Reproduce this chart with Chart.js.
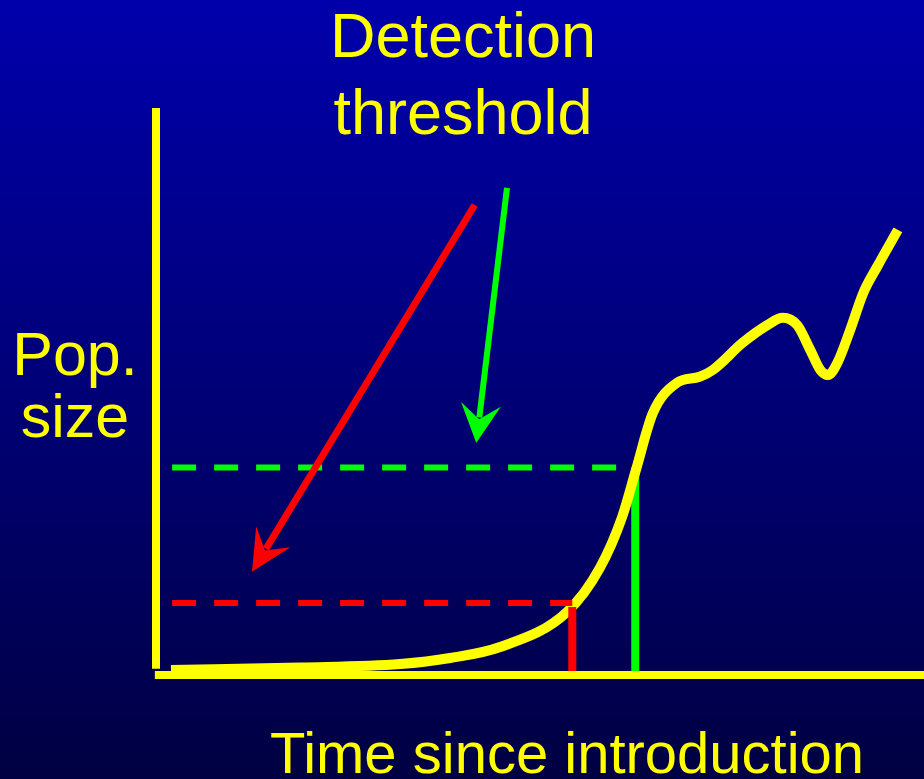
<!DOCTYPE html>
<html>
<head>
<meta charset="utf-8">
<script src="https://cdn.jsdelivr.net/npm/chart.js@4"></script>
<style>
  html, body { margin: 0; padding: 0; }
  body { width: 924px; height: 779px; background: linear-gradient(to bottom, #0000ab 0%, #000042 100%); overflow: hidden; }
  #c { display: block; }
</style>
</head>
<body>
<canvas id="c" width="924" height="779"></canvas>
<script>
// ---- data (arbitrary units: time 0-100, population 0-100) ----
const curveTime = [1.95, 18.8, 31.8, 38.3, 44.8, 53.5, 57.8, 60.7, 62.5, 64.7, 67.8, 70.8, 72.5, 76.4, 79.6, 81.6, 83.5, 85.2, 86.5, 87.5, 88.7, 90.4, 92.1, 93.9, 96.6];
const curvePop  = [0.88, 1.32, 1.94, 3.0, 4.94, 11.1, 18.9, 27.9, 36.2, 46.2, 51.5, 52.6, 53.8, 58.6, 61.7, 63.0, 61.7, 57.3, 53.8, 52.9, 55.0, 60.9, 67.4, 72.0, 78.5];

const redThreshold = 12.7;     // lower detection threshold (pop. size)
const redDetectTime = 54.2;    // time when lower threshold reached
const greenThreshold = 36.6;   // higher detection threshold
const greenDetectTime = 62.4;  // time when higher threshold reached
const thresholdStart = 2.1;

const redArrow = [[41.5, 82.9], [12.5, 18.2]];
const greenArrow = [[45.7, 85.9], [41.7, 40.9]];

const titleLines = ['Detection', 'threshold'];
const yLabelLines = ['Pop.', 'size'];
const xLabel = 'Time since introduction';

// ---- build ----
const YELLOW = '#ffff00', RED = '#ff0000', GREEN = '#00ff00';
const curveData = curveTime.map((t, i) => ({ x: t, y: curvePop[i] }));

const textPlugin = {
  id: 'labels',
  afterDraw(chart) {
    const ctx = chart.ctx;
    ctx.save();
    ctx.fillStyle = YELLOW;
    ctx.textAlign = 'center';
    ctx.textBaseline = 'alphabetic';
    ctx.font = '63px "Liberation Sans", Arial, sans-serif';
    ctx.fillText(titleLines[0], 463, 57);
    ctx.fillText(titleLines[1], 463, 134);
    ctx.font = '61px "Liberation Sans", Arial, sans-serif';
    ctx.fillText(yLabelLines[0], 75, 375);
    ctx.fillText(yLabelLines[1], 75, 437);
    ctx.font = '58px "Liberation Sans", Arial, sans-serif';
    ctx.fillText(xLabel, 567, 773);
    ctx.restore();
  }
};

const arrowPlugin = {
  id: 'arrows',
  afterDatasetsDraw(chart) {
    const ctx = chart.ctx, xs = chart.scales.x, ys = chart.scales.y;
    const draw = (pts, color, w, len, half, notch) => {
      const x0 = xs.getPixelForValue(pts[0][0]), y0 = ys.getPixelForValue(pts[0][1]);
      const x1 = xs.getPixelForValue(pts[1][0]), y1 = ys.getPixelForValue(pts[1][1]);
      const L = Math.hypot(x1 - x0, y1 - y0);
      const ux = (x1 - x0) / L, uy = (y1 - y0) / L;
      const px = -uy, py = ux;
      ctx.save();
      ctx.strokeStyle = color; ctx.fillStyle = color;
      ctx.lineWidth = w; ctx.lineCap = 'butt';
      ctx.beginPath();
      ctx.moveTo(x0, y0);
      ctx.lineTo(x1 - ux * (notch + 2), y1 - uy * (notch + 2));
      ctx.stroke();
      ctx.beginPath();
      ctx.moveTo(x1, y1);
      ctx.lineTo(x1 - ux * len + px * half, y1 - uy * len + py * half);
      ctx.lineTo(x1 - ux * notch, y1 - uy * notch);
      ctx.lineTo(x1 - ux * len - px * half, y1 - uy * len - py * half);
      ctx.closePath();
      ctx.fill();
      ctx.restore();
    };
    draw(redArrow, RED, 7, 41, 20, 25);
    draw(greenArrow, GREEN, 6, 39, 20, 24);
  }
};

const line = (data, color, width, extra) => Object.assign({
  data, borderColor: color, borderWidth: width, pointRadius: 0,
  borderCapStyle: 'butt', fill: false, clip: false, tension: 0
}, extra || {});

new Chart(document.getElementById('c'), {
  type: 'line',
  data: {
    datasets: [
      line([{ x: -0.15, y: 0 }, { x: 100, y: 0 }], YELLOW, 8),                     // x axis
      line([{ x: 0, y: 100 }, { x: 0, y: 1.1 }], YELLOW, 8),                       // y axis
      line([{ x: redDetectTime, y: 0 }, { x: redDetectTime, y: redThreshold - 0.7 }], RED, 8),
      line([{ x: thresholdStart, y: redThreshold }, { x: redDetectTime, y: redThreshold }], RED, 6, { borderDash: [24, 18] }),
      line(curveData, YELLOW, 10, { cubicInterpolationMode: 'monotone', borderJoinStyle: 'round' }),
      line([{ x: greenDetectTime, y: 0 }, { x: greenDetectTime, y: greenThreshold }], GREEN, 8),
      line([{ x: thresholdStart, y: greenThreshold }, { x: greenDetectTime - 0.4, y: greenThreshold }], GREEN, 6, { borderDash: [24, 18] })
    ]
  },
  options: {
    responsive: false,
    devicePixelRatio: 1,
    animation: false,
    layout: { padding: { left: 156, right: 0, top: 108, bottom: 104 } },
    plugins: { legend: { display: false }, tooltip: { enabled: false }, title: { display: false } },
    scales: {
      x: { type: 'linear', min: 0, max: 100, display: false },
      y: { type: 'linear', min: 0, max: 100, display: false }
    }
  },
  plugins: [arrowPlugin, textPlugin]
});
</script>
</body>
</html>
